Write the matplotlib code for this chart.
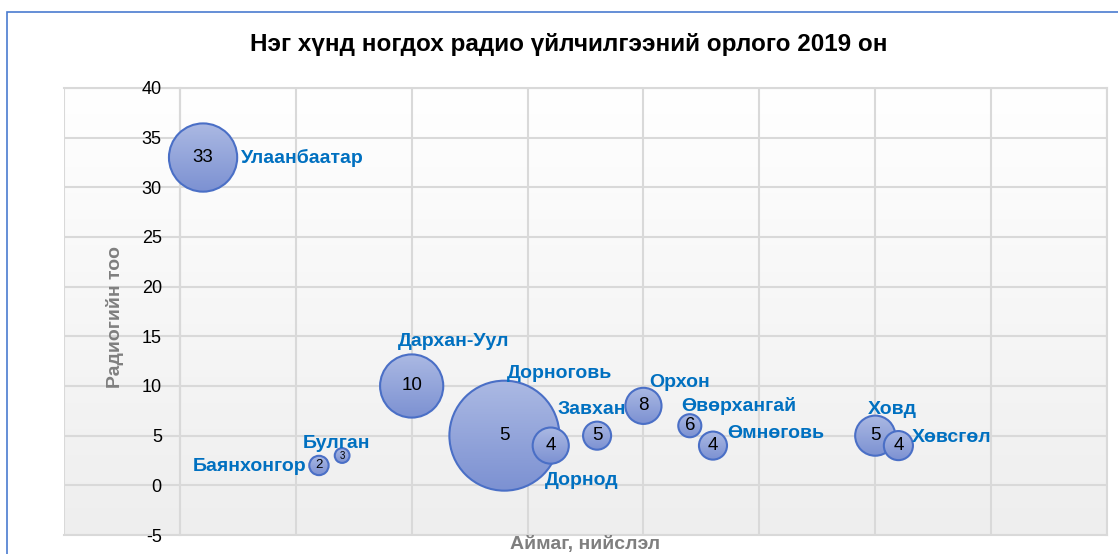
import numpy as np
import matplotlib
matplotlib.use("Agg")
import matplotlib.pyplot as plt
from matplotlib.patches import Rectangle, PathPatch
from matplotlib.path import Path
from matplotlib.transforms import Affine2D
from matplotlib.colors import LinearSegmentedColormap

plt.rcParams['font.family'] = ['Liberation Sans', 'DejaVu Sans']
plt.rcParams['axes.unicode_minus'] = False

# ---- data ----
regions = ["Улаанбаатар", "Баянхонгор", "Булган", "Дархан-Уул", "Дорноговь", "Дорнод",
           "Завхан", "Орхон", "Өвөрхангай", "Өмнөговь", "Ховд", "Хөвсгөл"]
x_pos = [0.2, 1.2, 1.4, 2.0, 2.8, 3.2, 3.6, 4.0, 4.4, 4.6, 6.0, 6.2]
radio_count = [33, 2, 3, 10, 5, 4, 5, 8, 6, 4, 5, 4]
bubble_size = [38.5, 3.1, 1.8, 33.0, 100.0, 10.8, 6.5, 10.8, 4.4, 6.5, 13.3, 7.0]
y_ticks = [-5, 0, 5, 10, 15, 20, 25, 30, 35, 40]

title = "Нэг хүнд ногдох радио үйлчилгээний орлого 2019 он"
xlabel = "Аймаг, нийслэл"
ylabel = "Радиогийн тоо"

# label offsets (points) and alignment -- layout only
label_offsets = [(27, 0), (-9, -1), (-4, 9), (30, 32), (40, 45), (22, -25),
                 (-4, 19), (26, 17), (35, 14), (10, 9), (12, 19), (10, 6)]
label_ha = ["left", "right", "center", "center", "center", "center",
            "center", "center", "center", "left", "center", "left"]

W, H = 1118, 554
DPI = 100
fig = plt.figure(figsize=(W / DPI, H / DPI), dpi=DPI)
ax = fig.add_axes([64 / W, 1 - 535 / H, (1107 - 64) / W, (535 - 88) / H])

# background gradient
grad = np.linspace(1, 0, 256).reshape(-1, 1)
bg_cmap = LinearSegmentedColormap.from_list("bg", ["#eeeeee", "#ffffff"])
ax.imshow(grad, extent=[0, 1, 0, 1], transform=ax.transAxes, aspect='auto',
          cmap=bg_cmap, zorder=0, origin='upper')

ax.set_xlim(-1, 8)
ax.set_ylim(-5, 40)
ax.set_xticks(np.arange(-1, 9, 1))
ax.set_yticks(y_ticks)
ax.grid(True, color="#d9d9d9", linewidth=1.5)
ax.set_axisbelow(True)
ax.tick_params(axis='x', length=0, labelbottom=False)
ax.tick_params(axis='y', length=0, pad=13, labelsize=13, labelcolor="black")
for s in ax.spines.values():
    s.set_color("#d9d9d9")
    s.set_linewidth(1.5)
    s.set_zorder(0.4)
ax.spines['left'].set_position(('data', 0))

# bubbles (gradient fill clipped to each marker circle)
scale = 62.7
bub_cmap = LinearSegmentedColormap.from_list("bub", ["#7c91d2", "#abb9e3"])
circle = Path.unit_circle()
pt2px = DPI / 72.0
for i, (xi, yi, b) in enumerate(zip(x_pos, radio_count, bubble_size)):
    s = b * scale
    r_px = np.sqrt(s) / 2 * pt2px
    z = 3 + i * 0.01
    cx, cy = ax.transData.transform((xi, yi))
    (x0, y0) = ax.transData.inverted().transform((cx - r_px, cy - r_px))
    (x1, y1) = ax.transData.inverted().transform((cx + r_px, cy + r_px))
    im = ax.imshow(np.linspace(0, 1, 128).reshape(-1, 1), extent=[x0, x1, y0, y1],
                   origin='lower', aspect='auto', cmap=bub_cmap, zorder=z)
    clip = PathPatch(circle, transform=Affine2D().scale(r_px).translate(cx, cy),
                     facecolor='none', edgecolor='none')
    im.set_clip_path(clip)
    ax.scatter([xi], [yi], s=s, facecolor='none', edgecolor="#4a6fc6",
               linewidth=1.5, zorder=z + 0.002, clip_on=False)
    fs = 13.5 if r_px > 11 else (9.5 if r_px > 9 else 7)
    ax.text(xi, yi, str(yi), ha="center", va="center", fontsize=fs, color="black",
            zorder=z + 0.004)

ax.set_xlim(-1, 8)
ax.set_ylim(-5, 40)

for name, xi, yi, off, ha in zip(regions, x_pos, radio_count, label_offsets, label_ha):
    ax.annotate(name, (xi, yi), xytext=off, textcoords="offset points", ha=ha, va="center",
                fontsize=14, fontweight="bold", color="#0070c0", zorder=5)

ax.text((115 - 64) / (1107 - 64), (535 - 317) / (535 - 88), ylabel, transform=ax.transAxes,
        rotation=90, ha="center", va="center", fontsize=14, fontweight="bold", color="#7f7f7f")
ax.text(0.5, -(545 - 535) / (535 - 88), xlabel, transform=ax.transAxes, ha="center",
        va="center", fontsize=14, fontweight="bold", color="#7f7f7f")

fig.text(569 / W, 1 - 45 / H, title, ha="center", va="center", fontsize=17.5,
         fontweight="bold", color="black")

# outer chart border (blue)
fig.add_artist(Rectangle((7 / W, -0.2), 1.2, (1 - 12 / H) + 0.2, transform=fig.transFigure,
                         fill=False, edgecolor="#4a7bd0", linewidth=1.2))

fig.savefig("out.png", dpi=DPI)
